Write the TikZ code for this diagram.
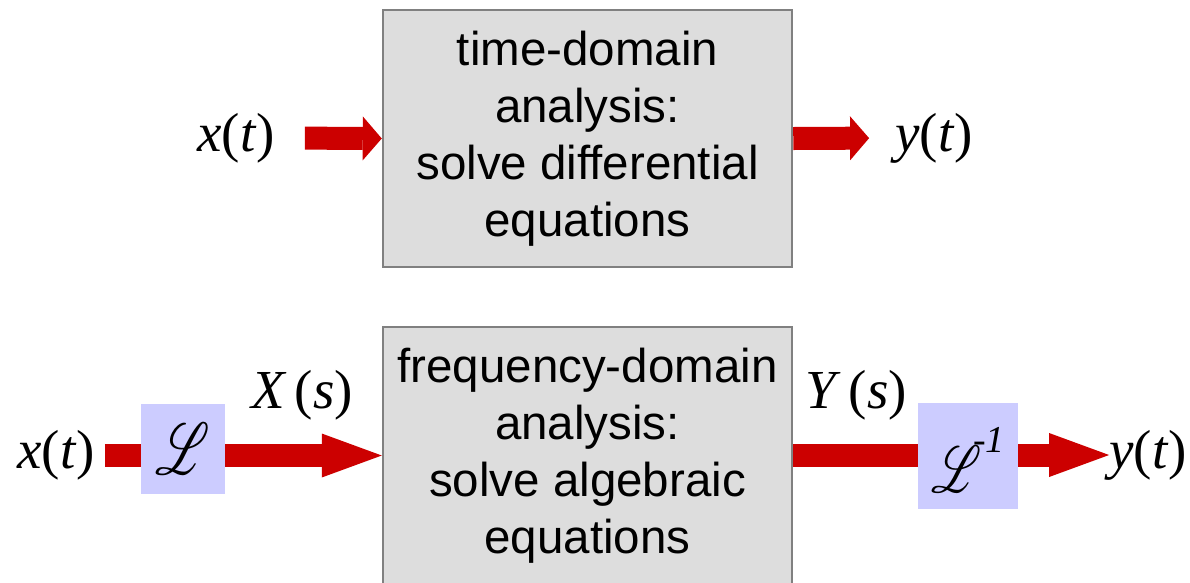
\documentclass[tikz,border=0pt]{standalone}
\usepackage{fontspec}
\usepackage{mathrsfs}
\setmainfont{Liberation Sans}
\newfontfamily\tms{Liberation Serif}
\usetikzlibrary{arrows.meta}
\definecolor{sig-red}{RGB}{204, 0, 0}
\definecolor{box-grey}{RGB}{221, 221, 221}
\definecolor{box-edge}{RGB}{128, 128, 128}
\definecolor{op-blue}{RGB}{204, 204, 255}
\newcommand{\tsig}[2]{{\tms\itshape #1\upshape(\itshape #2\/\upshape)}}
\newcommand{\fsig}[2]{{\tms\itshape #1\/\hspace{0.15em}\upshape(\itshape #2\/\upshape)}}
\newcommand{\lapsym}[2]{\scalebox{#1}[#2]{$\mathscr{L}$}}
\tikzset{
  blockbox/.style={draw=box-edge, fill=box-grey, line width=2.5pt,
    minimum width=409pt, minimum height=257pt, align=center,
    font=\fontsize{47.5}{57}\selectfont},
  opbox/.style={fill=op-blue, inner sep=0pt, text depth=0pt},
  siglabel/.style={font=\fontsize{55}{55}\selectfont, inner sep=0pt},
  sigbar/.style={draw=sig-red, line width=23pt},
  sigarrow/.style={sigbar, -{Triangle[length=19pt, width=44pt, line width=0pt]}},
  longarrow/.style={sigbar, -{Triangle[length=60pt, width=44pt, line width=0pt]}},
}

\begin{document}
\begin{tikzpicture}[x=1pt, y=-1pt]
\useasboundingbox (0,0) rectangle (1190,582);
% time domain
\node[blockbox] (timebox) at (587.5,138.5) {time-domain\\analysis:\\solve differential\\equations};
\node[siglabel] (xtop) at (236,138) {\tsig{x}{t}};
\node[siglabel] (ytop) at (934,138) {\tsig{y}{t}};
\draw[sigarrow, shorten <=30pt] (xtop.east) -- (timebox.west);
\draw[sigarrow, shorten >=26pt] (timebox.east) -- (ytop.west);
% frequency domain
\node[blockbox] (freqbox) at (587.5,455.5) {frequency-domain\\analysis:\\solve algebraic\\equations};
\node[siglabel] (xbot) at (56,455) {\tsig{x}{t}};
\node[siglabel] (ybot) at (1148,455) {\tsig{y}{t}};
\node[opbox, minimum width=84pt, minimum height=90pt, text height=50pt] (lap) at (183,449)
  {\lapsym{5.1}{7.3}};
\node[opbox, minimum width=100pt, minimum height=106pt, text height=72pt] (ilap) at (968,456)
  {\lapsym{4.7}{6.6}\hspace{-8pt}\raisebox{40pt}{\fontsize{38}{38}\selectfont\tms\itshape -1}};
\node[siglabel] (Xs) at (302,395) {\fsig{X}{s}};
\node[siglabel] (Ys) at (856,395) {\fsig{Y}{s}};
\draw[sigbar, shorten <=10pt] (xbot.east) -- (xbot.east -| lap.west);
\draw[longarrow] (lap.east |- freqbox) -- (freqbox.west);
\draw[sigbar] (freqbox.east) -- (freqbox.east -| ilap.west);
\draw[longarrow] (ilap.east |- ybot) -- (ybot.west);
\end{tikzpicture}
\end{document}
